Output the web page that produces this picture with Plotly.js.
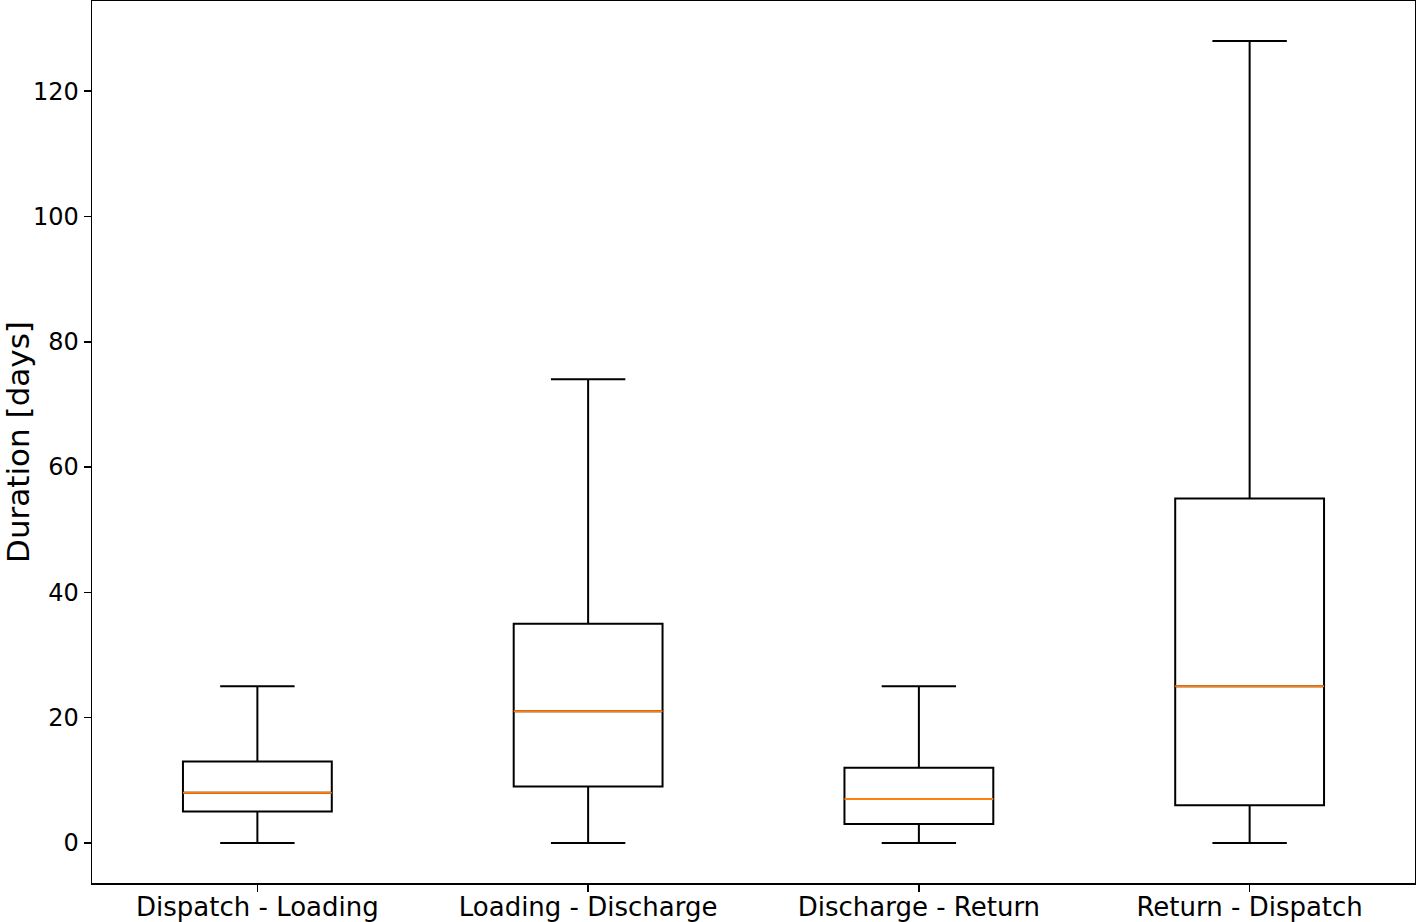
<!DOCTYPE html>
<html>
<head>
<meta charset="utf-8">
<script src="https://cdn.plot.ly/plotly-3.0.1.min.js"></script>
<style>
  html, body { margin: 0; padding: 0; background: #fff; }
  #plot { width: 1416px; height: 922px; }
</style>
</head>
<body>
<div id="plot"></div>
<script>
// stage names and box statistics (days)
const stages = ["Dispatch - Loading", "Loading - Discharge", "Discharge - Return", "Return - Dispatch"];
const positions = [1, 2, 3, 4];
const lowerWhisker = [0, 0, 0, 0];
const q1 = [5, 9, 3, 6];
const median = [8, 21, 7, 25];
const q3 = [13, 35, 12, 55];
const upperWhisker = [25, 74, 25, 128];

const boxWidth = 0.45;

// orange median segments, one per box, split by nulls
const medX = [], medY = [];
positions.forEach((p, i) => {
  medX.push(p - boxWidth / 2, p + boxWidth / 2, null);
  medY.push(median[i], median[i], null);
});

const traces = [
  {
    type: "box",
    x: positions,
    q1: q1,
    median: median,
    q3: q3,
    lowerfence: lowerWhisker,
    upperfence: upperWhisker,
    width: boxWidth,
    whiskerwidth: 0.5,
    fillcolor: "rgba(255,255,255,0)",
    line: { color: "#000000", width: 2 },
    boxpoints: false,
    hoverinfo: "skip",
    showlegend: false
  },
  {
    type: "scatter",
    mode: "lines",
    x: medX,
    y: medY,
    line: { color: "#ff7f0e", width: 2 },
    hoverinfo: "skip",
    showlegend: false
  }
];

const layout = {
  width: 1416,
  height: 922,
  margin: { l: 92, r: 1, t: 1, b: 39 },
  paper_bgcolor: "#ffffff",
  plot_bgcolor: "#ffffff",
  font: { family: "DejaVu Sans", color: "#000000", size: 24 },
  showlegend: false,
  xaxis: {
    range: [0.5, 4.5],
    tickvals: positions,
    ticktext: stages,
    ticks: "outside",
    ticklen: 7,
    tickwidth: 1.5,
    tickcolor: "#000000",
    showgrid: false,
    zeroline: false,
    showline: true,
    linecolor: "#000000",
    linewidth: 1.5,
    mirror: true,
    tickfont: { size: 26 },
    ticklabelstandoff: -7
  },
  yaxis: {
    range: [-6.4, 134.4],
    tickvals: [0, 20, 40, 60, 80, 100, 120],
    ticks: "outside",
    ticklen: 7,
    tickwidth: 1.5,
    tickcolor: "#000000",
    showgrid: false,
    zeroline: false,
    showline: true,
    linecolor: "#000000",
    linewidth: 1.5,
    mirror: true,
    tickfont: { size: 24 },
    title: { text: "Duration [days]", font: { size: 31 }, standoff: 8 }
  }
};

Plotly.newPlot("plot", traces, layout, { displayModeBar: false, staticPlot: true });
</script>
</body>
</html>
